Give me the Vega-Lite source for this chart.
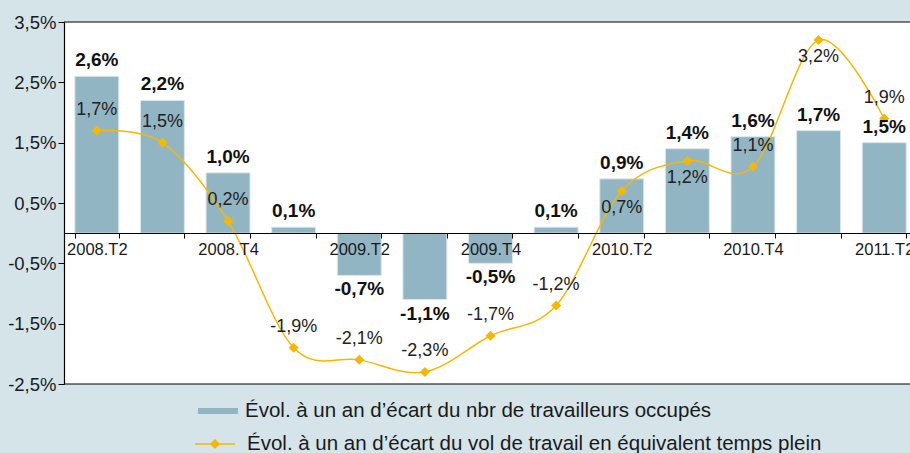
{
  "$schema": "https://vega.github.io/schema/vega-lite/v6.json",
  "width": 846,
  "height": 362,
  "autosize": {"type": "none"},
  "padding": {"left": 64, "top": 22, "right": 0, "bottom": 69},
  "background": "#d4e4e9",
  "config": {
    "view": {"fill": "white", "stroke": null},
    "font": "Liberation Sans",
    "text": {"font": "Liberation Sans"}
  },
  "data": {
    "values": [
      {"q": "2008.T2", "emploi": 2.6, "volume": 1.7},
      {"q": "2008.T3", "emploi": 2.2, "volume": 1.5},
      {"q": "2008.T4", "emploi": 1.0, "volume": 0.2},
      {"q": "2009.T1", "emploi": 0.1, "volume": -1.9},
      {"q": "2009.T2", "emploi": -0.7, "volume": -2.1},
      {"q": "2009.T3", "emploi": -1.1, "volume": -2.3},
      {"q": "2009.T4", "emploi": -0.5, "volume": -1.7},
      {"q": "2010.T1", "emploi": 0.1, "volume": -1.2},
      {"q": "2010.T2", "emploi": 0.9, "volume": 0.7},
      {"q": "2010.T3", "emploi": 1.4, "volume": 1.2},
      {"q": "2010.T4", "emploi": 1.6, "volume": 1.1},
      {"q": "2011.T1", "emploi": 1.7, "volume": 3.2},
      {"q": "2011.T2", "emploi": 1.5, "volume": 1.9}
    ]
  },
  "transform": [
    {"calculate": "replace(replace(format(datum.emploi, '.1f'), '.', ','), '\u2212', '-') + '%'", "as": "lab_e"},
    {"calculate": "replace(replace(format(datum.volume, '.1f'), '.', ','), '\u2212', '-') + '%'", "as": "lab_v"}
  ],
  "layer": [
    {
      "mark": {"type": "bar", "stroke": "#dce8ec", "strokeWidth": 1},
      "encoding": {
        "x": {
          "field": "q", "type": "ordinal", "sort": null,
          "scale": {"range": [0, 853], "paddingInner": 0.33, "paddingOuter": 0.165},
          "axis": {
            "title": null, "orient": "bottom", "offset": -151, "zindex": 1,
            "domainColor": "black", "domainWidth": 1.2,
            "tickBand": "extent", "tickColor": "black", "tickSize": 5, "tickWidth": 1,
            "labelAngle": 0, "labelFontSize": 16.5, "labelColor": "#1a1a1a", "labelPadding": 3,
            "labelExpr": "(indexof(datum.label, 'T2') >= 0 || indexof(datum.label, 'T4') >= 0) ? datum.label : ''"
          }
        },
        "y": {
          "field": "emploi", "type": "quantitative",
          "scale": {"domain": [-2.5, 3.5], "nice": false, "zero": false},
          "axis": {
            "title": null, "grid": false,
            "values": [-2.5, -1.5, -0.5, 0.5, 1.5, 2.5, 3.5],
            "labelExpr": "replace(replace(format(datum.value, '.1f'), '.', ','), '\u2212', '-') + '%'",
            "domainColor": "black", "domainWidth": 1.2, "tickColor": "black", "tickSize": 6,
            "labelFontSize": 18.5, "labelColor": "#1a1a1a", "labelPadding": 2
          }
        },
        "y2": {"datum": 0},
        "fill": {
          "datum": "Évol. à un an d’écart du nbr de travailleurs occupés",
          "scale": {"range": ["#92b5c4"]},
          "legend": {
            "orient": "none", "legendX": 134, "legendY": 369, "title": null, "direction": "vertical",
            "padding": 0, "labelFontSize": 20.5, "labelFont": "Liberation Sans",
            "labelColor": "#1a1a1a", "labelOffset": 7, "labelLimit": 700, "symbolSize": 1600,
            "symbolType": "M-1,-0.15H1V0.15H-1Z", "symbolStrokeWidth": 0, "symbolOpacity": 1
          }
        }
      }
    },
    {
      "data": {"values": [{"b": 3.5}, {"b": -2.5}]},
      "mark": {"type": "rule", "color": "black", "strokeWidth": 1.2},
      "encoding": {"y": {"field": "b", "type": "quantitative"}}
    },
    {
      "mark": {"type": "line", "interpolate": "cardinal", "strokeWidth": 1.5},
      "encoding": {
        "x": {"field": "q", "type": "ordinal", "sort": null},
        "y": {"field": "volume", "type": "quantitative"},
        "stroke": {
          "datum": "Évol. à un an d’écart du vol de travail en équivalent temps plein",
          "scale": {"range": ["#f5b800"]},
          "legend": {
            "orient": "none", "legendX": 130, "legendY": 401, "title": null, "direction": "vertical",
            "padding": 0, "labelFontSize": 20.5, "labelFont": "Liberation Sans",
            "labelColor": "#1a1a1a", "labelOffset": 11, "labelLimit": 700, "symbolSize": 1600,
            "symbolType": "M-1,0H1M0,-0.2L0.2,0L0,0.2L-0.2,0Z", "symbolStrokeWidth": 1.5,
            "symbolFillColor": "#f5b800", "symbolOpacity": 1
          }
        }
      }
    },
    {
      "mark": {"type": "point", "shape": "diamond", "size": 100, "filled": true, "color": "#f5b800", "opacity": 1},
      "encoding": {
        "x": {"field": "q", "type": "ordinal", "sort": null},
        "y": {"field": "volume", "type": "quantitative"}
      }
    },
    {
      "transform": [{"filter": "datum.emploi >= 0"}],
      "mark": {"type": "text", "fontWeight": "bold", "fontSize": 19, "dy": -16, "baseline": "middle", "color": "#111"},
      "encoding": {
        "x": {"field": "q", "type": "ordinal", "sort": null},
        "y": {"field": "emploi", "type": "quantitative"},
        "text": {"field": "lab_e"}
      }
    },
    {
      "transform": [{"filter": "datum.emploi < 0"}],
      "mark": {"type": "text", "fontWeight": "bold", "fontSize": 19, "dy": 14, "baseline": "middle", "color": "#111"},
      "encoding": {
        "x": {"field": "q", "type": "ordinal", "sort": null},
        "y": {"field": "emploi", "type": "quantitative"},
        "text": {"field": "lab_e"}
      }
    },
    {
      "transform": [{"filter": "indexof(['2010.T2', '2010.T3', '2011.T1'], datum.q) < 0"}],
      "mark": {"type": "text", "fontSize": 18, "dy": -21, "baseline": "middle", "color": "#222"},
      "encoding": {
        "x": {"field": "q", "type": "ordinal", "sort": null},
        "y": {"field": "volume", "type": "quantitative"},
        "text": {"field": "lab_v"}
      }
    },
    {
      "transform": [{"filter": "indexof(['2010.T2', '2010.T3', '2011.T1'], datum.q) >= 0"}],
      "mark": {"type": "text", "fontSize": 18, "dy": 17, "baseline": "middle", "color": "#222"},
      "encoding": {
        "x": {"field": "q", "type": "ordinal", "sort": null},
        "y": {"field": "volume", "type": "quantitative"},
        "text": {"field": "lab_v"}
      }
    }
  ]
}
